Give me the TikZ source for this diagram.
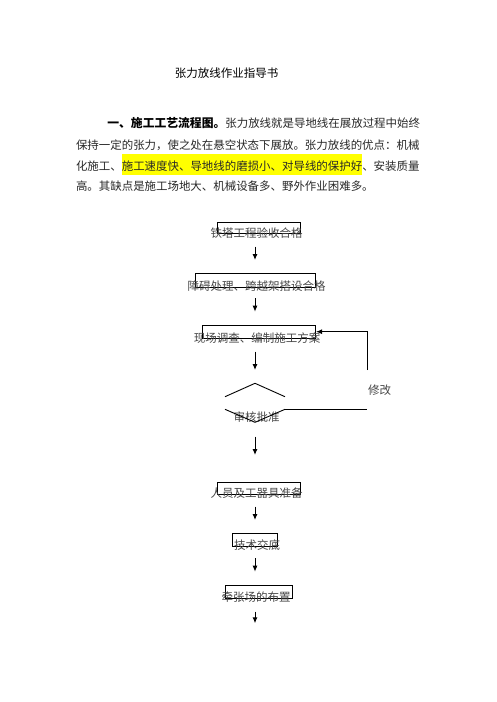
\documentclass[tikz,border=0pt]{standalone}
\usepackage{fontspec}
\setmainfont{Noto Sans CJK SC}
\usetikzlibrary{arrows.meta}
\definecolor{hly}{RGB}{255,255,0}
\definecolor{txt}{RGB}{40,40,40}
\definecolor{flowtxt}{RGB}{70,70,70}
\tikzset{
  para/.style={inner sep=0pt, outer sep=0pt, text=txt, font=\fontsize{11.45pt}{13pt}\selectfont, anchor=base west},
  hl/.style={para, fill=hly, text height=16.4pt, text depth=4.6pt},
  ftxt/.style={inner sep=0pt, outer sep=0pt, text=flowtxt, font=\fontsize{11.5pt}{13pt}\selectfont, anchor=base},
  fbox/.style={draw=black, line width=0.9pt},
  arr/.style={draw=black, line width=1pt, -{Latex[length=6pt,width=5pt]}},
  fline/.style={draw=black, line width=0.9pt},
}
\begin{document}
\begin{tikzpicture}[x=1pt,y=-1pt]
\useasboundingbox[fill=white] (0,0) rectangle (496,702);
% title
\node[inner sep=0pt, font=\fontsize{11.5pt}{13pt}\selectfont, anchor=base] (title) at (226.7,77.7) {张力放线作业指导书};
% paragraph
\node[para, anchor=base east] (l1b) at (420,127.7) {张力放线就是导地线在展放过程中始终};
\node[para, anchor=base east, font=\fontsize{11.8pt}{13pt}\selectfont\bfseries, text=black] (l1a) at (l1b.base west) {一、施工工艺流程图。};
\node[para] (l2) at (76,149.4) {保持一定的张力，使之处在悬空状态下展放。张力放线的优点：机械};
\node[para] (l3a) at (76,170.4) {化施工、};
\node[hl] (l3b) at (l3a.base east) {施工速度快、导地线的磨损小、对导线的保护好};
\node[para] (l3c) at (l3b.base east) {、安装质量};
\node[para] (l4) at (76,190.4) {高。其缺点是施工场地大、机械设备多、野外作业困难多。};
% boxes (offset from text as in the reference)
\node[fbox, anchor=north west, minimum width=83pt, minimum height=11.6pt, inner sep=0pt] (b1) at (217.3,221.7) {};
\node[fbox, anchor=north west, minimum width=120pt, minimum height=13.4pt, inner sep=0pt] (b2) at (195.3,273.3) {};
\node[fbox, anchor=north west, minimum width=113pt, minimum height=13.3pt, inner sep=0pt] (b3) at (202.3,325) {};
\node[fbox, anchor=north west, minimum width=83pt, minimum height=12.3pt, inner sep=0pt] (b5) at (217.3,481.7) {};
\node[fbox, anchor=north west, minimum width=45pt, minimum height=12.7pt, inner sep=0pt] (b6) at (232.3,533.3) {};
\node[fbox, anchor=north west, minimum width=67pt, minimum height=13pt, inner sep=0pt] (b7) at (225.3,585.3) {};
% flow texts
\node[ftxt] (t1) at (256.7,237.4) {铁塔工程验收合格};
\node[ftxt] (t2) at (256.5,290.4) {障碍处理、跨越架搭设合格};
\node[ftxt] (t3) at (257,342.1) {现场调查、编制施工方案};
\node[ftxt] (t4) at (256.5,421.1) {审核批准};
\node[ftxt] (t8) at (379.5,394.4) {修改};
\node[ftxt] (t5) at (256.5,497.7) {人员及工器具准备};
\node[ftxt] (t6) at (257,549.4) {技术交底};
\node[ftxt] (t7) at (256,601.1) {牵张场的布置};
% diamond (broken)
\coordinate (dtop) at (255,383.3);
\coordinate (dl) at (225,396.7);
\coordinate (dr) at (285,396.7);
\coordinate (dll) at (225,409.3);
\coordinate (drl) at (285,409.3);
\coordinate (dbot) at (255,422.3);
\draw[fline] (dl) -- (dtop) -- (dr);
\draw[fline] (dll) -- (dbot) -- (drl);
% feedback loop
\coordinate (fbc) at (367.3,409.3);
\coordinate (fbb) at (367.3,370);
\coordinate (fbt) at (367.3,331.7);
\coordinate (fbe) at (316,331.7);
\draw[fline] (drl) -- (fbc);
\draw[arr] (fbb) -- (fbt) -- (fbe);
% arrows
\coordinate (a1s) at (255,246.7); \coordinate (a1e) at (255,260);
\coordinate (a2s) at (255,298);   \coordinate (a2e) at (255,311.7);
\coordinate (a3s) at (255,351.7); \coordinate (a3e) at (255,370);
\coordinate (a4s) at (255,436.7); \coordinate (a4e) at (255,455);
\coordinate (a5s) at (255,506.7); \coordinate (a5e) at (255,520);
\coordinate (a6s) at (255,558.3); \coordinate (a6e) at (255,571.7);
\coordinate (a7s) at (255,611.7); \coordinate (a7e) at (255,623.3);
\foreach \i in {1,...,7} { \draw[arr] (a\i s) -- (a\i e); }
\end{tikzpicture}
\end{document}
